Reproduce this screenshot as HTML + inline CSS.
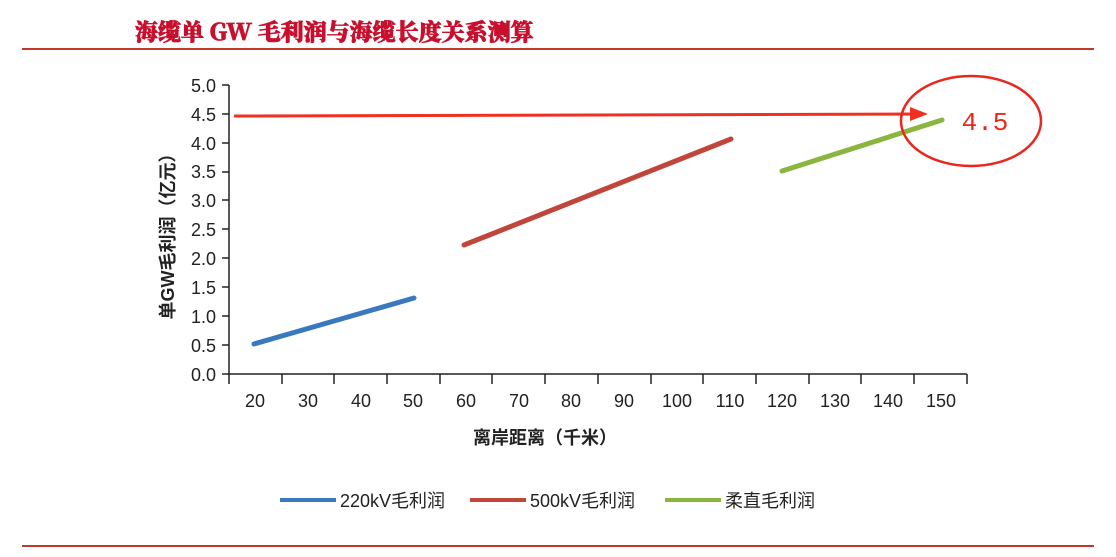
<!DOCTYPE html>
<html><head><meta charset="utf-8"><style>
body{margin:0;background:#fff;}
svg text{font-family:"Liberation Sans","Noto Sans CJK SC",sans-serif;}
</style></head><body>
<svg width="1116" height="552" viewBox="0 0 1116 552" xmlns="http://www.w3.org/2000/svg">
<rect width="1116" height="552" fill="#fff"/>
<text x="135" y="40" font-size="23" font-weight="900" fill="#c8102e" stroke="#c8102e" stroke-width="0.8" style="font-family:'Noto Serif CJK SC','Noto Sans CJK SC',serif">海缆单 GW 毛利润与海缆长度关系测算</text>
<line x1="22" y1="49" x2="1094" y2="49" stroke="#c0392b" stroke-width="2"/>
<line x1="22" y1="546" x2="1094" y2="546" stroke="#c0392b" stroke-width="2"/>
<g stroke="#222" stroke-width="1.5">
<line x1="229" y1="85" x2="229" y2="384"/>
<line x1="229" y1="374" x2="967" y2="374"/>
</g>
<g font-size="18" fill="#222" text-anchor="end">
<text x="216" y="381">0.0</text><text x="216" y="352">0.5</text><text x="216" y="323">1.0</text><text x="216" y="294">1.5</text><text x="216" y="265">2.0</text><text x="216" y="236">2.5</text><text x="216" y="207">3.0</text><text x="216" y="178">3.5</text><text x="216" y="150">4.0</text><text x="216" y="121">4.5</text><text x="216" y="92">5.0</text>
</g>
<g stroke="#222" stroke-width="1.5">
<line x1="222" y1="374" x2="229" y2="374"/><line x1="222" y1="345" x2="229" y2="345"/><line x1="222" y1="316" x2="229" y2="316"/><line x1="222" y1="287" x2="229" y2="287"/><line x1="222" y1="258" x2="229" y2="258"/><line x1="222" y1="229" x2="229" y2="229"/><line x1="222" y1="200" x2="229" y2="200"/><line x1="222" y1="172" x2="229" y2="172"/><line x1="222" y1="143" x2="229" y2="143"/><line x1="222" y1="114" x2="229" y2="114"/><line x1="222" y1="85" x2="229" y2="85"/>
<line x1="282" y1="374" x2="282" y2="384"/><line x1="334" y1="374" x2="334" y2="384"/><line x1="387" y1="374" x2="387" y2="384"/><line x1="440" y1="374" x2="440" y2="384"/><line x1="492" y1="374" x2="492" y2="384"/><line x1="545" y1="374" x2="545" y2="384"/><line x1="598" y1="374" x2="598" y2="384"/><line x1="651" y1="374" x2="651" y2="384"/><line x1="703" y1="374" x2="703" y2="384"/><line x1="756" y1="374" x2="756" y2="384"/><line x1="809" y1="374" x2="809" y2="384"/><line x1="861" y1="374" x2="861" y2="384"/><line x1="914" y1="374" x2="914" y2="384"/><line x1="967" y1="374" x2="967" y2="384"/>
</g>
<g font-size="18" fill="#222" text-anchor="middle">
<text x="255" y="407">20</text><text x="308" y="407">30</text><text x="361" y="407">40</text><text x="413" y="407">50</text><text x="466" y="407">60</text><text x="519" y="407">70</text><text x="571" y="407">80</text><text x="624" y="407">90</text><text x="677" y="407">100</text><text x="730" y="407">110</text><text x="782" y="407">120</text><text x="835" y="407">130</text><text x="888" y="407">140</text><text x="941" y="407">150</text>
</g>
<text x="545" y="444" font-size="18" font-weight="bold" fill="#222" text-anchor="middle">离岸距离（千米）</text>
<text transform="translate(174,232) rotate(-90)" font-size="18" font-weight="bold" fill="#222" text-anchor="middle">单GW毛利润（亿元）</text>
<line x1="254" y1="344" x2="414" y2="298" stroke="#3a78c0" stroke-width="5" stroke-linecap="round"/>
<line x1="464" y1="245" x2="731" y2="139" stroke="#c0453a" stroke-width="5" stroke-linecap="round"/>
<line x1="782" y1="171" x2="942" y2="120" stroke="#8ab53e" stroke-width="5" stroke-linecap="round"/>
<line x1="234" y1="116" x2="912" y2="114" stroke="#f03020" stroke-width="3"/>
<polygon points="928,114 910,107 910,121" fill="#f03020"/>
<ellipse cx="971" cy="121" rx="70" ry="45" fill="none" stroke="#e8281e" stroke-width="2.5"/>
<text x="985" y="130" font-size="26" fill="#e8281e" text-anchor="middle" style="font-family:'Liberation Mono',monospace">4.5</text>
<line x1="280" y1="500" x2="336" y2="500" stroke="#3a78c0" stroke-width="4"/>
<text x="340" y="507" font-size="18" fill="#222">220kV毛利润</text>
<line x1="470" y1="500" x2="526" y2="500" stroke="#c0453a" stroke-width="4"/>
<text x="530" y="507" font-size="18" fill="#222">500kV毛利润</text>
<line x1="665" y1="500" x2="721" y2="500" stroke="#8ab53e" stroke-width="4"/>
<text x="725" y="507" font-size="18" fill="#222">柔直毛利润</text>
</svg>
</body></html>
